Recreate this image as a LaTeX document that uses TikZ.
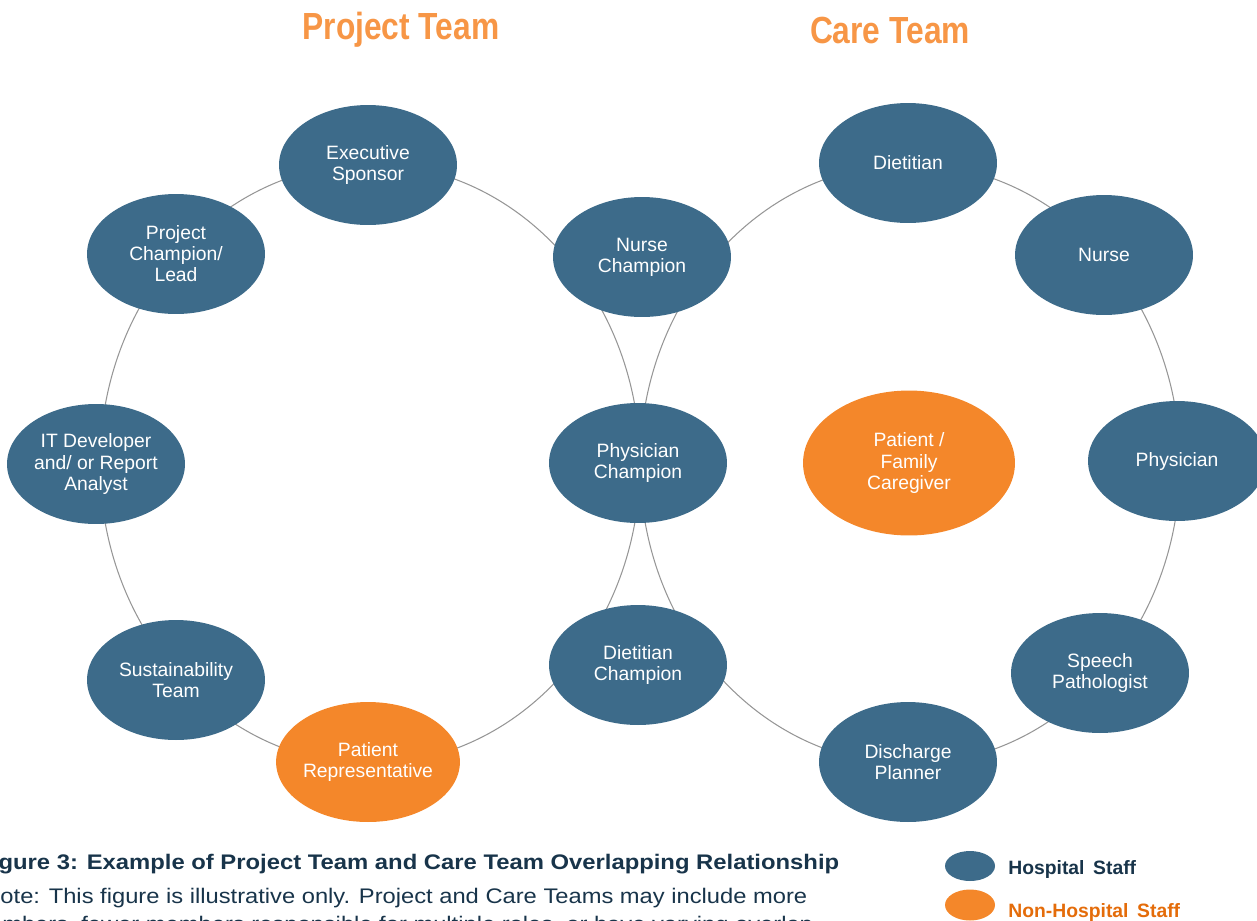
\documentclass[tikz,border=0pt]{standalone}
\usepackage{fontspec}
\setmainfont{Liberation Sans}
\usetikzlibrary{shapes.geometric,positioning}
\definecolor{staffblue}{RGB}{61,107,138}
\definecolor{guestorange}{RGB}{244,135,42}
\definecolor{titleorange}{RGB}{247,150,70}
\definecolor{captionnavy}{RGB}{24,52,74}
\definecolor{legendorange}{RGB}{228,108,10}
\definecolor{ringgray}{RGB}{150,150,150}

\begin{document}
\begin{tikzpicture}[x=0.02cm,y=-0.02cm,
	member/.style={ellipse, fill=staffblue, text=white, minimum width=3.56cm, minimum height=2.4cm, inner sep=0pt, align=center, font=\fontsize{11}{12}\selectfont},
	guest/.style={member, fill=guestorange},
	teamtitle/.style={text=titleorange, font=\fontsize{21.5}{24}\selectfont\bfseries},
	captext/.style={anchor=base west, text=captionnavy, inner sep=0pt, font=\fontsize{12}{14}\selectfont},
	keytext/.style={anchor=base west, inner sep=0pt, font=\fontsize{11}{13}\selectfont\bfseries},
	ring/.style={ringgray, line width=0.6pt}]
	\useasboundingbox (0,0) rectangle (1257,920);
	\clip (0,0) rectangle (1257,920);
	\draw[ring] (370,464) ellipse [x radius=270, y radius=300];
	\draw[ring] (910,464) ellipse [x radius=270, y radius=300];
	\node[teamtitle] (projtitle) at (401,30) {\scalebox{0.84}[1]{Project Team}};
	\node[teamtitle] (caretitle) at (890,30) {\scalebox{0.84}[1]{Care Team}};
	\node[member] (exec) at (368,165) {Executive\\Sponsor};
	\node[member] (projlead) at (176,254) {Project\\Champion/\\Lead};
	\node[member] (itdev) at (96,464) {IT Developer\\and/ or Report\\Analyst};
	\node[member] (sustain) at (176,680) {Sustainability\\Team};
	\node[guest] (patrep) at (368,762) {Patient\\Representative};
	\node[member] (dietchamp) at (638,665) {Dietitian\\Champion};
	\node[member] (physchamp) at (638,463) {Physician\\Champion};
	\node[member] (nursechamp) at (642,257) {Nurse\\Champion};
	\node[member] (dietitian) at (908,163) {Dietitian};
	\node[member] (nurse) at (1104,255) {Nurse};
	\node[member] (physician) at (1177,461) {Physician};
	\node[member] (speech) at (1100,673) {Speech\\Pathologist};
	\node[member] (discharge) at (908,762) {Discharge\\Planner};
	\node[guest, minimum width=4.24cm, minimum height=2.9cm] (family) at (909,463) {Patient /\\Family\\Caregiver};
	\node[captext, font=\fontsize{12}{14}\selectfont\bfseries] (capline) at (-23,869) {\scalebox{1.13}[1]{Figure 3: Example of Project Team and Care Team Overlapping Relationship}};
	\node[captext] (noteline) at (-17,903) {\scalebox{1.125}[1]{Note: This figure is illustrative only. Project and Care Teams may include more}};
	\node[captext] (noteline2) at (-31,931) {\scalebox{1.125}[1]{members, fewer members responsible for multiple roles, or have varying overlap}};
	\node[member, minimum width=1cm, minimum height=0.6cm] (hospkey) at (970,866) {};
	\node[guest, minimum width=1cm, minimum height=0.62cm] (otherkey) at (970,905) {};
	\node[keytext, text=captionnavy] (hosplabel) at (1008,874) {Hospital\, Staff};
	\node[keytext, text=legendorange] (otherlabel) at (1008,917) {Non-Hospital\, Staff};
\end{tikzpicture}
\end{document}
